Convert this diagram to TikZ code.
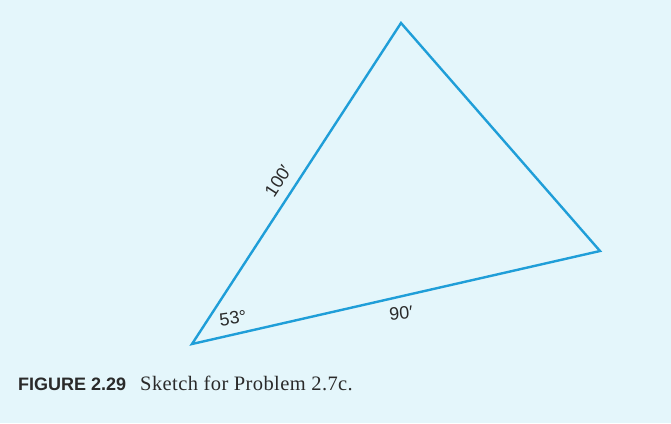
\documentclass[tikz,border=0pt]{standalone}
\usepackage{fontspec}
\setmainfont{Liberation Serif}
\setsansfont{Liberation Sans}
\definecolor{paper}{HTML}{E4F6FB}
\definecolor{edge}{HTML}{1F9ED8}
\definecolor{ink}{HTML}{2A2A2A}
\begin{document}
\begin{tikzpicture}[x=1pt,y=-1pt,
  side/.style={draw=edge,line width=2.4pt,line join=miter},
  dim/.style={font=\sffamily\fontsize{18}{18}\selectfont,text=ink,inner sep=0pt},
  captext/.style={inner sep=0pt,anchor=base west,text=ink}]
\fill[paper] (0,0) rectangle (671,423);
\useasboundingbox (0,0) rectangle (671,423);
\coordinate (A) at (192,344);
\coordinate (B) at (401,23);
\coordinate (C) at (600,251);
\draw[side] (A) -- (B) -- (C) -- cycle;
\node[dim,rotate=57] (l100) at (278,181) {100′};
\node[dim,rotate=8] (l53) at (233,318) {53°};
\node[dim,rotate=5] (l90) at (401,313) {90′};
\node[captext] (fig) at (18,390) {\sffamily\bfseries\fontsize{18}{18}\selectfont FIGURE 2.29\hspace{14pt}\rmfamily\mdseries\fontsize{20.5}{20.5}\selectfont\addfontfeature{LetterSpace=2}Sketch for Problem 2.7c.};
\end{tikzpicture}
\end{document}
